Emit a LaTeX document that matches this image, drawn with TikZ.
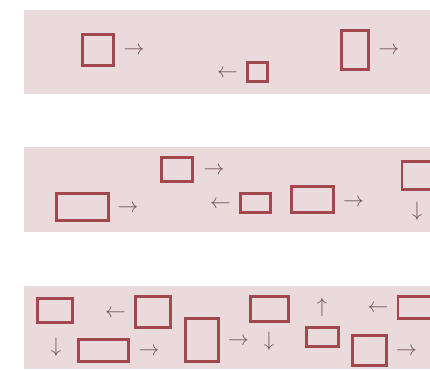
\documentclass[tikz,border=0pt]{standalone}
\usepackage{amsmath}
\begin{document}
\begin{tikzpicture}[x=1pt,y=-1pt]
\definecolor{bandbg}{HTML}{EBDADB}
\definecolor{boxred}{HTML}{A3474F}
\definecolor{arrgray}{HTML}{6E5458}
\tikzset{
  band/.style={fill=bandbg,draw=none},
  bx/.style={draw=boxred,line width=2.3pt,fill=none,inner sep=0pt,rectangle},
  glyph/.style={text=arrgray,inner sep=0pt,font=\fontsize{20}{20}\selectfont},
  hglyph/.style={glyph,yshift=-2pt}
}
\useasboundingbox (0,0) rectangle (430,369);
% bands
\fill[band] (24,10) rectangle (430,94);
\fill[band] (24,147) rectangle (430,232);
\fill[band] (24,286) rectangle (430,369);
\begin{scope}
\clip (0,0) rectangle (430,369);
% band 1
\node[bx,minimum width=31pt,minimum height=31pt] (a1) at (98,50) {};
\node[hglyph] (r1) at (134,49) {$\rightarrow$};
\node[hglyph] (l1) at (227.5,72) {$\leftarrow$};
\node[bx,minimum width=20pt,minimum height=19pt] (a2) at (257.5,72) {};
\node[bx,minimum width=27pt,minimum height=39pt] (a3) at (355,50) {};
\node[hglyph] (r2) at (389,49) {$\rightarrow$};
% band 2
\node[bx,minimum width=31pt,minimum height=24pt] (b1) at (177,169.5) {};
\node[hglyph] (r3) at (214,169) {$\rightarrow$};
\node[bx,minimum width=52pt,minimum height=27pt] (b2) at (82.5,207) {};
\node[hglyph] (r4) at (128,207) {$\rightarrow$};
\node[hglyph] (l2) at (220.5,203) {$\leftarrow$};
\node[bx,minimum width=30pt,minimum height=19pt] (b3) at (255.5,203) {};
\node[bx,minimum width=42pt,minimum height=26pt] (b4) at (312.5,199.5) {};
\node[hglyph] (r5) at (353.5,201) {$\rightarrow$};
\node[bx,minimum width=40pt,minimum height=28pt] (b5) at (422,175.5) {};
\node[glyph] (d1) at (417,211.5) {$\downarrow$};
% band 3
\node[bx,minimum width=35pt,minimum height=24pt] (c1) at (55,310.5) {};
\node[glyph] (d2) at (56,347) {$\downarrow$};
\node[hglyph] (l3) at (115.5,312) {$\leftarrow$};
\node[bx,minimum width=35pt,minimum height=31pt] (c2) at (153,312) {};
\node[bx,minimum width=50pt,minimum height=22pt] (c3) at (103.5,350.5) {};
\node[hglyph] (r6) at (149,350) {$\rightarrow$};
\node[bx,minimum width=33pt,minimum height=43pt] (c4) at (202,340) {};
\node[hglyph] (r7) at (238.5,340) {$\rightarrow$};
\node[glyph] (d3) at (269,341) {$\downarrow$};
\node[bx,minimum width=38pt,minimum height=25pt] (c5) at (269.5,309) {};
\node[glyph] (u1) at (322,307.5) {$\uparrow$};
\node[bx,minimum width=32pt,minimum height=19pt] (c6) at (322.5,337) {};
\node[hglyph] (l4) at (378,307) {$\leftarrow$};
\node[bx,minimum width=40pt,minimum height=22pt] (c7) at (418,307.5) {};
\node[bx,minimum width=34pt,minimum height=30pt] (c8) at (369.5,350.5) {};
\node[hglyph] (r8) at (406.5,350) {$\rightarrow$};
\end{scope}
\end{tikzpicture}
\end{document}
